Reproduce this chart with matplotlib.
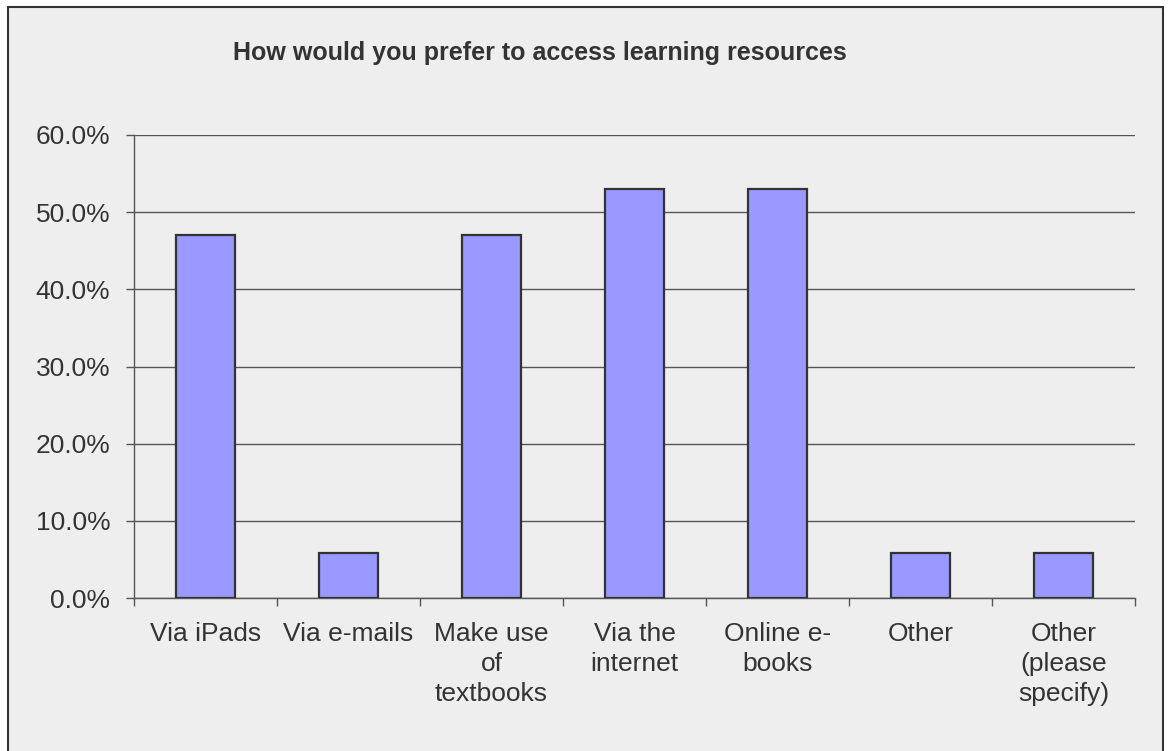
import matplotlib
matplotlib.use("Agg")
import matplotlib.pyplot as plt
from matplotlib.patches import Rectangle
from matplotlib.ticker import PercentFormatter, FixedLocator, NullFormatter

categories = ["Via iPads", "Via e-mails", "Make use\nof\ntextbooks", "Via the\ninternet",
              "Online e-\nbooks", "Other", "Other\n(please\nspecify)"]
percentages = [47.06, 5.88, 47.06, 52.94, 52.94, 5.88, 5.88]
y_ticks = [0, 10, 20, 30, 40, 50, 60]
title = "How would you prefer to access learning resources"

plt.rcParams["font.family"] = ["Liberation Sans", "DejaVu Sans"]

BG = "#EEEEEE"
TEXT = "#333333"
LINE = "#555555"

fig = plt.figure(figsize=(11.71, 7.51), dpi=100, facecolor="white")

# Chart area panel with dark outline (drawn beneath the axes)
fig.patches.append(Rectangle((8 / 1171, -0.05), (1163 - 8) / 1171, 1 - 7 / 751 + 0.05,
                             transform=fig.transFigure, facecolor=BG,
                             edgecolor="#333333", linewidth=1.5, zorder=-10))

ax = fig.add_axes([134 / 1171, 1 - 598 / 751, (1135 - 134) / 1171, (598 - 135) / 751])
ax.set_zorder(5)
ax.set_facecolor("none")

x = list(range(len(categories)))
ax.bar(x, percentages, width=0.41, color="#9999FF", edgecolor="#333333",
       linewidth=1.6, zorder=3)

ax.set_xlim(-0.5, len(categories) - 0.5)
ax.set_ylim(0, 60)
ax.set_yticks(y_ticks)
ax.yaxis.set_major_formatter(PercentFormatter(decimals=1))
ax.grid(axis="y", color=LINE, linewidth=1.0, zorder=1)

# Category labels centred under bars, ticks at the category boundaries
ax.xaxis.set_major_locator(FixedLocator([i - 0.5 for i in range(len(categories) + 1)]))
ax.xaxis.set_major_formatter(NullFormatter())
ax.xaxis.set_minor_locator(FixedLocator(x))
ax.set_xticklabels(categories, minor=True, linespacing=1.33)
ax.tick_params(axis="x", which="minor", length=0, pad=17, labelsize=19, labelcolor=TEXT)
ax.tick_params(axis="x", which="major", length=6, width=1, color=LINE)
ax.tick_params(axis="y", length=6, width=1, color=LINE, pad=11, labelsize=19,
               labelcolor=TEXT)

for side in ("top", "right"):
    ax.spines[side].set_visible(False)
for side in ("left", "bottom"):
    ax.spines[side].set_color(LINE)
    ax.spines[side].set_linewidth(1.0)

fig.text(540 / 1171, 1 - 53 / 751, title, ha="center", va="center",
         fontsize=18, fontweight="bold", color=TEXT)

fig.savefig("out.png", dpi=100, facecolor="white")
